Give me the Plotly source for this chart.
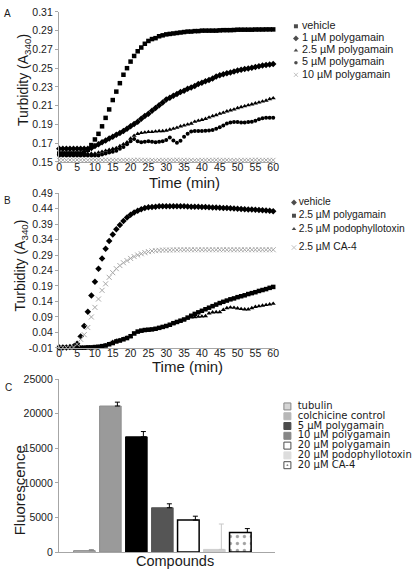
import plotly.graph_objects as go

W, H = 414, 574
FONT = "Liberation Sans, Arial, sans-serif"
TXT = "#1a1a1a"
AXC = "#a6a6a6"

# ---------------- DATA ----------------
time_min = list(range(61))

# Panel A
a_names = ["vehicle", "1 µM polygamain", "2.5 µM polygamain", "5 µM polygamain", "10 µM polygamain"]
a_vehicle = [0.159, 0.159, 0.159, 0.159, 0.159, 0.159, 0.159, 0.160, 0.163, 0.168,
             0.174, 0.180, 0.188, 0.197, 0.206, 0.216, 0.225, 0.234, 0.243, 0.250,
             0.257, 0.263, 0.268, 0.272, 0.276, 0.279, 0.281, 0.282, 0.284, 0.285,
             0.286, 0.2865, 0.287, 0.2875, 0.288, 0.2885, 0.289, 0.289, 0.2895, 0.2895,
             0.290, 0.290, 0.290, 0.290, 0.290, 0.2903, 0.2905, 0.2905, 0.2905, 0.2907,
             0.291, 0.291, 0.291, 0.291, 0.291, 0.2912, 0.2912, 0.2912, 0.2913, 0.2913, 0.2913]
a_poly1 = [0.164, 0.164, 0.164, 0.164, 0.164, 0.164, 0.164, 0.164, 0.164, 0.165,
           0.167, 0.169, 0.171, 0.173, 0.175, 0.177, 0.179, 0.181, 0.183, 0.1855,
           0.188, 0.1905, 0.193, 0.196, 0.199, 0.2015, 0.2045, 0.2075, 0.2105, 0.2135,
           0.2165, 0.2185, 0.2205, 0.2225, 0.2245, 0.226, 0.228, 0.2295, 0.231, 0.233,
           0.2345, 0.236, 0.2375, 0.239, 0.241, 0.2425, 0.2435, 0.2445, 0.2455, 0.2465,
           0.2475, 0.2483, 0.249, 0.2497, 0.2505, 0.2513, 0.252, 0.2527, 0.2533, 0.254, 0.2545]
a_poly25 = [0.159, 0.159, 0.159, 0.159, 0.159, 0.159, 0.159, 0.159, 0.159, 0.159,
            0.159, 0.160, 0.161, 0.162, 0.163, 0.164, 0.165, 0.167, 0.169, 0.171,
            0.175, 0.178, 0.180, 0.181, 0.1815, 0.182, 0.182, 0.1825, 0.183, 0.183,
            0.1835, 0.1845, 0.1855, 0.1865, 0.188, 0.189, 0.190, 0.191, 0.193, 0.194,
            0.195, 0.196, 0.1975, 0.199, 0.200, 0.2015, 0.2025, 0.204, 0.205, 0.206,
            0.2075, 0.2085, 0.2095, 0.2105, 0.2115, 0.2125, 0.2135, 0.2145, 0.2155, 0.217, 0.218]
a_poly5 = [0.157, 0.157, 0.157, 0.157, 0.157, 0.157, 0.157, 0.157, 0.157, 0.157,
           0.157, 0.157, 0.158, 0.159, 0.160, 0.161, 0.162, 0.164, 0.166, 0.169,
           0.172, 0.1745, 0.172, 0.171, 0.1715, 0.172, 0.1715, 0.171, 0.1715, 0.172,
           0.1735, 0.176, 0.173, 0.1705, 0.1725, 0.177, 0.180, 0.1825, 0.183, 0.183,
           0.183, 0.1832, 0.1835, 0.184, 0.1855, 0.187, 0.189, 0.191, 0.1922, 0.1925,
           0.1925, 0.192, 0.192, 0.1925, 0.193, 0.194, 0.1955, 0.1965, 0.197, 0.197, 0.197]
a_poly10 = [0.152, 0.152, 0.1518, 0.152, 0.152, 0.1522, 0.152, 0.152, 0.1518, 0.152,
            0.152, 0.152, 0.152, 0.1522, 0.152, 0.152, 0.152, 0.1518, 0.152, 0.152,
            0.152, 0.152, 0.1522, 0.152, 0.152, 0.152, 0.152, 0.1518, 0.152, 0.152,
            0.152, 0.152, 0.152, 0.1522, 0.152, 0.152, 0.152, 0.152, 0.1518, 0.152,
            0.152, 0.152, 0.152, 0.152, 0.1522, 0.152, 0.152, 0.152, 0.152, 0.1518,
            0.152, 0.152, 0.152, 0.152, 0.152, 0.1522, 0.152, 0.152, 0.152, 0.152, 0.152]

# Panel B
b_names = ["vehicle", "2.5 µM polygamain", "2.5 µM podophyllotoxin", "2.5 µM CA-4"]
b_vehicle = [-0.008, -0.008, -0.008, -0.007, -0.005, 0.004, 0.027, 0.061, 0.107, 0.159,
             0.204, 0.246, 0.279, 0.310, 0.335, 0.356, 0.373, 0.387, 0.400, 0.411,
             0.420, 0.427, 0.433, 0.438, 0.442, 0.444, 0.445, 0.446, 0.447, 0.447,
             0.447, 0.447, 0.447, 0.447, 0.447, 0.447, 0.4465, 0.446, 0.4458, 0.4455,
             0.445, 0.4445, 0.444, 0.4435, 0.443, 0.4425, 0.442, 0.4413, 0.4407, 0.440,
             0.4393, 0.4387, 0.438, 0.4372, 0.4365, 0.4357, 0.435, 0.4342, 0.4333, 0.4325, 0.4315]
b_poly25 = [-0.008, -0.009, -0.009, -0.008, -0.009, -0.009, -0.009, -0.009, -0.008, -0.008,
            -0.007, -0.006, -0.004, -0.002, 0.002, 0.006, 0.011, 0.014, 0.018, 0.022,
            0.028, 0.037, 0.043, 0.046, 0.048, 0.049, 0.050, 0.052, 0.055, 0.058,
            0.061, 0.065, 0.070, 0.074, 0.078, 0.082, 0.088, 0.094, 0.100, 0.105,
            0.110, 0.115, 0.120, 0.125, 0.130, 0.135, 0.139, 0.143, 0.147, 0.150,
            0.154, 0.157, 0.160, 0.164, 0.167, 0.170, 0.174, 0.177, 0.180, 0.184, 0.187]
b_podo = [-0.008, -0.008, -0.009, -0.008, -0.008, -0.009, -0.008, -0.008, -0.008, -0.008,
          -0.007, -0.006, -0.004, -0.001, 0.004, 0.010, 0.014, 0.016, 0.020, 0.024,
          0.026, 0.035, 0.041, 0.044, 0.046, 0.048, 0.049, 0.051, 0.053, 0.056,
          0.060, 0.064, 0.068, 0.072, 0.077, 0.081, 0.086, 0.089, 0.090, 0.091,
          0.092, 0.093, 0.102, 0.105, 0.106, 0.106, 0.113, 0.119, 0.121, 0.120,
          0.118, 0.116, 0.115, 0.115, 0.119, 0.123, 0.125, 0.127, 0.129, 0.131, 0.133]
b_ca4 = [-0.008, -0.008, -0.008, -0.008, -0.007, 0.002, 0.018, 0.033, 0.056, 0.090,
         0.121, 0.148, 0.176, 0.197, 0.218, 0.233, 0.246, 0.256, 0.265, 0.272,
         0.279, 0.285, 0.290, 0.294, 0.298, 0.301, 0.303, 0.304, 0.305, 0.306,
         0.306, 0.306, 0.3065, 0.3065, 0.307, 0.307, 0.307, 0.307, 0.307, 0.307,
         0.307, 0.307, 0.307, 0.307, 0.307, 0.307, 0.307, 0.307, 0.307, 0.307,
         0.307, 0.307, 0.307, 0.307, 0.307, 0.307, 0.307, 0.307, 0.307, 0.307, 0.307]

# Panel C
c_names = ["tubulin", "colchicine control", "5 µM polygamain", "10 µM polygamain",
           "20 µM polygamain", "20 µM podophyllotoxin", "20 µM CA-4"]
c_values = [200, 21100, 16650, 6400, 4620, 380, 2830]
c_errors = [140, 560, 760, 570, 560, 3670, 560]

# Tick labels
a_yticks = [0.15, 0.17, 0.19, 0.21, 0.23, 0.25, 0.27, 0.29, 0.31]
b_yticks = [-0.01, 0.04, 0.09, 0.14, 0.19, 0.24, 0.29, 0.34, 0.39, 0.44, 0.49]
c_yticks = [0, 5000, 10000, 15000, 20000, 25000]
time_ticks = list(range(0, 61, 5))

# ---------------- STYLES ----------------
a_styles = [
    dict(symbol="square", size=4.5, color="#000"),
    dict(symbol="diamond", size=5, color="#000"),
    dict(symbol="triangle-up", size=4.5, color="#000"),
    dict(symbol="circle", size=4, color="#000"),
    dict(symbol="x-thin", size=4.5, color="#999", line=dict(width=1, color="#a8a8a8")),
]
b_styles = [
    dict(symbol="diamond", size=5, color="#000"),
    dict(symbol="square", size=4.5, color="#000"),
    dict(symbol="triangle-up", size=4.5, color="#000"),
    dict(symbol="x-thin", size=5, color="#999", line=dict(width=1, color="#a8a8a8")),
]
c_fill = ["#c4c4c4", "#9a9a9a", "#000000", "#555555", "#ffffff", "#cfcfcf", "#ffffff"]
c_line = ["#8a8a8a", "#8f8f8f", "#000000", "#555555", "#000000", "#cfcfcf", "#000000"]
c_lw = [1, 1, 1, 1, 1.5, 1, 1.5]
c_pattern = ["", "", "", "", "", "", "."]
c_errcol = ["#888888", "#000000", "#000000", "#000000", "#000000", "#c8c8c8", "#000000"]
c_leg_sym = ["square", "square", "square", "square", "square", "square", "square-dot"]

fig = go.Figure()

for name, ys, st in zip(a_names, [a_vehicle, a_poly1, a_poly25, a_poly5, a_poly10], a_styles):
    fig.add_trace(go.Scatter(x=time_min, y=ys, mode="markers", name=name, marker=st,
                             xaxis="x", yaxis="y", cliponaxis=False))
for name, ys, st in zip(b_names, [b_vehicle, b_poly25, b_podo, b_ca4], b_styles):
    fig.add_trace(go.Scatter(x=time_min, y=ys, mode="markers", name=name, marker=st,
                             xaxis="x2", yaxis="y2", cliponaxis=False))

c_x = list(range(len(c_values)))
fig.add_trace(go.Bar(x=c_x, y=c_values, width=0.83, xaxis="x3", yaxis="y3",
                     marker=dict(color=c_fill, line=dict(color=c_line, width=c_lw),
                                 pattern=dict(shape=c_pattern, fgcolor="#000", size=7,
                                              solidity=0.17))))
ERR_SHIFT = 0.27
for i, (v, e, col) in enumerate(zip(c_values, c_errors, c_errcol)):
    fig.add_trace(go.Scatter(x=[i + ERR_SHIFT], y=[v], mode="markers", xaxis="x3", yaxis="y3",
                             marker=dict(size=1, opacity=0),
                             error_y=dict(type="data", array=[e], arrayminus=[0], symmetric=False,
                                          color=col, thickness=1, width=2.5)))

# ---------------- CUSTOM LEGENDS (overlay pixel axis) ----------------
def add_legend(names, styles, mx, tx, rows, fsize, family=FONT):
    fig.add_trace(go.Scatter(x=[mx] * len(names), y=rows, mode="markers", marker=dict(
        symbol=[s["symbol"] for s in styles], size=[s["size"] - 0.5 for s in styles],
        color=[s["color"] for s in styles],
        line=dict(width=[s.get("line", {}).get("width", 0) for s in styles],
                  color=[s.get("line", {}).get("color", s["color"]) for s in styles])),
        xaxis="x4", yaxis="y4", cliponaxis=False))
    fig.add_trace(go.Scatter(x=[tx] * len(names), y=rows, mode="text", text=names,
                             textposition="middle right",
                             textfont=dict(family=family, size=fsize, color=TXT),
                             xaxis="x4", yaxis="y4", cliponaxis=False))

add_legend(a_names, a_styles, 298.7, 304.8, [20.7 + 12.4 * i for i in range(5)], 10.8)
add_legend(b_names, b_styles, 296.7, 301.5, [200.7, 214.2, 227.7, 246.7], 10.3)

c_leg_styles = [dict(symbol=s, size=7.5, color=f, line=dict(width=1, color=l))
                for s, f, l in zip(c_leg_sym, c_fill,
                                   ["#555", "#9a9a9a", "#000", "#555", "#000", "#cfcfcf", "#000"])]
add_legend(c_names, c_leg_styles, 290.0, 300.5, [409 + 10 * i for i in range(7)], 10,
           "DejaVu Sans, Liberation Sans, sans-serif")

# ---------------- LAYOUT ----------------
def py(p):
    return 1 - p / H

xdom = [57 / W, 277 / W]
tickfont = dict(family=FONT, size=10.5, color=TXT)
common_x = dict(showline=True, linecolor=AXC, linewidth=1, ticks="", showgrid=False,
                zeroline=False, tickfont=tickfont, tickvals=time_ticks, ticklabelstandoff=-5)
common_y = dict(showline=True, linecolor=AXC, linewidth=1, ticks="outside", ticklen=3,
                tickcolor=AXC, showgrid=False, zeroline=False, tickfont=tickfont)

fig.update_layout(
    width=W, height=H, margin=dict(l=0, r=0, t=0, b=0),
    paper_bgcolor="white", plot_bgcolor="rgba(0,0,0,0)", showlegend=False,
    font=dict(family=FONT, color=TXT),
    xaxis=dict(domain=xdom, anchor="y", range=[-0.1, 60.4], **common_x),
    yaxis=dict(domain=[py(159.3), py(6)], anchor="x", range=[0.15, 0.31],
               tickvals=a_yticks, ticktext=[f"{v:.2f}" for v in a_yticks], **common_y),
    xaxis2=dict(domain=xdom, anchor="y2", range=[-0.1, 60.4], **common_x),
    yaxis2=dict(domain=[py(349.3), py(191)], anchor="x2", range=[-0.01, 0.49],
                tickvals=b_yticks, ticktext=[f"{v:.2f}" for v in b_yticks], **common_y),
    xaxis3=dict(domain=xdom, anchor="y3", range=[-0.98, 7.32], showline=True, linecolor=AXC,
                showticklabels=False, ticks="", showgrid=False, zeroline=False),
    yaxis3=dict(domain=[py(557.7), py(381)], anchor="x3", range=[0, 25000],
                tickvals=c_yticks, ticktext=[str(v) for v in c_yticks], **common_y),
    xaxis4=dict(domain=[0, 1], anchor="y4", range=[0, W], visible=False),
    yaxis4=dict(domain=[0, 1], anchor="x4", range=[H, 0], visible=False),
)

def ann(text, x, y, size, angle=0):
    fig.add_annotation(text=text, x=x / W, y=py(y), xref="paper", yref="paper",
                       showarrow=False, textangle=angle, xanchor="center", yanchor="middle",
                       font=dict(family=FONT, size=size, color=TXT))

ann("A", 5, 8, 10)
ann("B", 5, 199, 10)
ann("C", 6, 390, 10)
ann("Turbidity (A<sub>340</sub>)", 22, 76, 14, -90)
ann("Turbidity (A<sub>340</sub>)", 18.5, 265, 14, -90)
ann("Time (min)", 185, 180, 15)
ann("Time (min)", 188, 368, 15)
ann("Fluorescence", 17, 495, 15, -90)
ann("Compounds", 175, 567, 14.5)

fig.write_html("out.html", config={"displayModeBar": False},
               post_script="document.body.style.margin='0';")
